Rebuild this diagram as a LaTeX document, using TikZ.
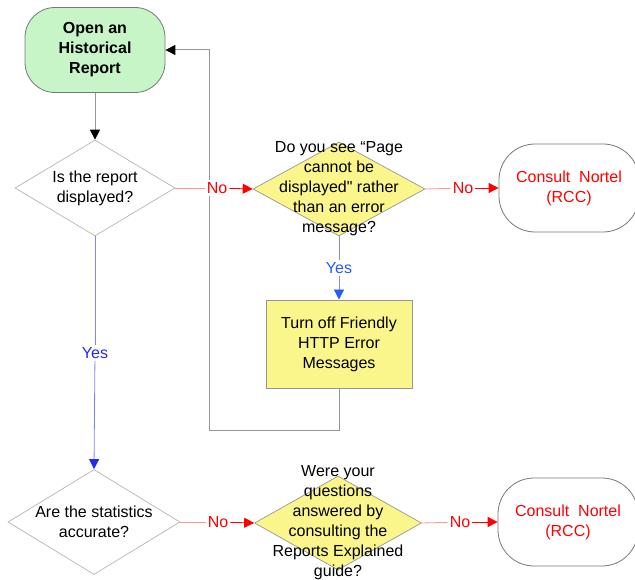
\documentclass[tikz,border=0pt]{standalone}
\usepackage{fontspec}
\setmainfont{Liberation Sans}[Ligatures=TeXOff]
\usetikzlibrary{shapes.geometric,arrows.meta}
\definecolor{flowgreen}{RGB}{200,245,200}
\definecolor{flowyellow}{RGB}{250,246,140}
\definecolor{edgegray}{RGB}{150,150,150}
\definecolor{softred}{RGB}{255,150,150}
\definecolor{softblue}{RGB}{120,140,255}
\definecolor{arrowblue}{RGB}{40,90,255}
\definecolor{deepblue}{RGB}{40,40,240}
\definecolor{paleblue}{RGB}{130,130,255}
\begin{document}
\begin{tikzpicture}[x=1pt,y=-1pt,
  txt/.style={align=center,font=\fontsize{16}{20}\selectfont},
  dia/.style={diamond,draw=edgegray!70,inner sep=0pt,line width=0.7pt},
  ydia/.style={dia,fill=flowyellow,draw=edgegray},
  term/.style={draw=edgegray!80!black,rounded corners=36pt,line width=0.8pt,inner sep=0pt},
  lab/.style={txt,inner sep=2pt,fill=white},
  tip/.style={-{Triangle[length=10pt,width=10pt]}},
  grayline/.style={draw=edgegray,line width=1pt},
  pinkline/.style={draw=softred,line width=0.8pt},
  redarrow/.style={draw=red,line width=0.8pt,tip},
  blueline/.style={draw=softblue,line width=0.8pt},
  bluearrow/.style={draw=softblue,line width=0.8pt,-{Triangle[length=10pt,width=10pt,color=arrowblue]}},
  blueline2/.style={draw=paleblue,line width=0.8pt},
  bluearrow2/.style={draw=paleblue,line width=0.8pt,-{Triangle[length=10pt,width=10pt,color=deepblue]}}
]
\useasboundingbox (0,0) rectangle (635,580);

% shapes
\node[term,fill=flowgreen,minimum width=140pt,minimum height=85pt,rounded corners=30pt,
      txt,font=\fontsize{16}{20}\selectfont\bfseries] (start) at (95,50) {Open an\\Historical\\Report};
\node[dia,minimum width=160pt,minimum height=96pt] (d1) at (95,188) {};
\node[txt] (d1t) at (d1) {Is the report\\displayed?};
\node[ydia,minimum width=172pt,minimum height=94pt] (d2) at (339,189) {};
\node[txt] (d2t) at (d2) {Do you see “Page\\cannot be\\displayed" rather\\than an error\\message?};
\node[term,minimum width=140pt,minimum height=88pt,txt,text=red] (rcc1) at (569,188) {Consult\ \ Nortel\\(RCC)};
\node[draw=edgegray,fill=flowyellow,line width=0.8pt,minimum width=146pt,minimum height=88pt,txt] (box) at (339,344) {Turn off Friendly\\HTTP Error\\Messages};
\node[dia,minimum width=172pt,minimum height=105pt] (d3) at (94,522) {};
\node[txt] (d3t) at (d3) {Are the statistics\\accurate?};
\node[ydia,minimum width=167pt,minimum height=94pt] (d4) at (338,523) {};
\node[txt] (d4t) at (d4) {Were your\\questions\\answered by\\consulting the\\Reports Explained\\guide?};
\node[term,minimum width=140pt,minimum height=88pt,txt,text=red] (rcc2) at (568,522) {Consult\ \ Nortel\\(RCC)};

% return path from the box back to the start
\coordinate (lp) at (209,430);
\draw[grayline,-{Triangle[length=10pt,width=10pt,color=black]}] (box.south) |- (lp) |- (start.east);

% start to first decision
\draw[grayline,-{Triangle[length=10pt,width=10pt,color=black]}] (start.south) -- (d1.north);

% first decision: No branch
\node[lab,text=red] (n1) at (217,188) {No};
\draw[pinkline] (d1.east) -- (n1);
\draw[redarrow] (n1) -- (d2.west);

% second decision: No branch
\node[lab,text=red] (n2) at (463,188) {No};
\draw[pinkline] (d2.east) -- (n2);
\draw[redarrow] (n2) -- (rcc1.west);

% second decision: Yes branch
\node[lab,text=arrowblue] (y2) at (339,268) {Yes};
\draw[blueline] (d2.south) -- (y2);
\draw[bluearrow] (y2) -- (box.north);

% first decision: Yes branch
\node[lab,text=deepblue] (y1) at (95,353) {Yes};
\draw[blueline2] (d1.south) -- (y1);
\draw[bluearrow2] (y1) -- (d3.north);

% third decision: No branch
\node[lab,text=red] (n3) at (218,522) {No};
\draw[pinkline] (d3.east) -- (n3);
\draw[redarrow] (n3) -- (d4.west);

% fourth decision: No branch
\node[lab,text=red] (n4) at (460,522) {No};
\draw[pinkline] (d4.east) -- (n4);
\draw[redarrow] (n4) -- (rcc2.west);
\end{tikzpicture}
\end{document}
